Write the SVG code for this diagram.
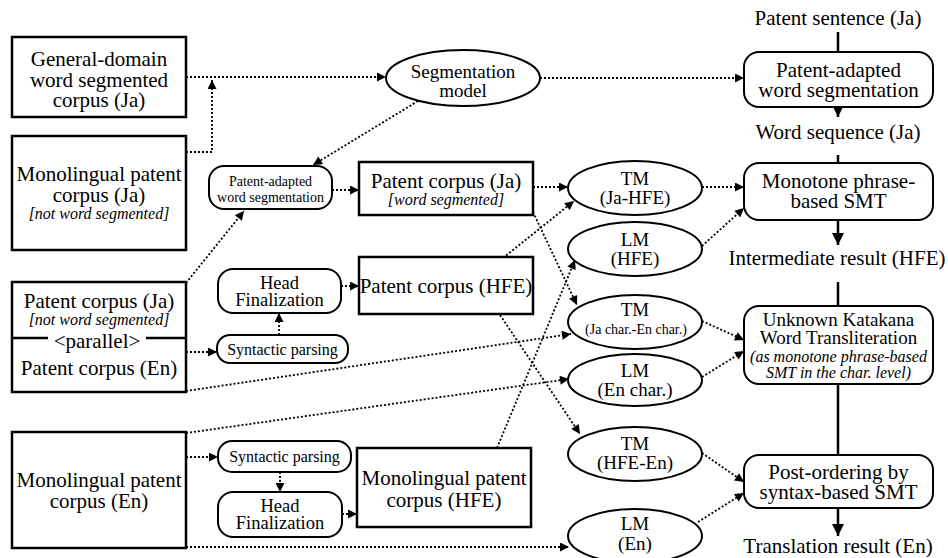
<svg xmlns="http://www.w3.org/2000/svg" width="948" height="558" viewBox="0 0 948 558" font-family="Liberation Serif, DejaVu Serif, serif">
<defs>
<style>
text{text-anchor:middle;fill:#000}
.b{fill:#fff;stroke:#000;stroke-width:2.5}
.r{fill:#fff;stroke:#000;stroke-width:2}
.e{fill:#fff;stroke:#000;stroke-width:2}
.d{fill:none;stroke:#000;stroke-width:1.8;stroke-dasharray:2 2;marker-end:url(#ah)}
.s{fill:none;stroke:#000;stroke-width:2.5}
.sa{fill:none;stroke:#000;stroke-width:2.5;marker-end:url(#sh)}
.f21{font-size:21px}
.f19{font-size:19px}
.f18{font-size:18.5px}
.f16{font-size:16px}
.f14{font-size:14px}
.i{font-style:italic}
</style>
<marker id="ah" viewBox="0 0 10 10" refX="10" refY="5" markerWidth="10" markerHeight="9" orient="auto" markerUnits="userSpaceOnUse"><path d="M0,0 L10,5 L0,10 z" fill="#000"/></marker>
<marker id="sh" viewBox="0 0 10 10" refX="10" refY="5" markerWidth="12" markerHeight="13" orient="auto" markerUnits="userSpaceOnUse"><path d="M0,0 L10,5 L0,10 z" fill="#000"/></marker>
</defs>
<rect width="948" height="558" fill="#fff"/>

<g id="connectors">
<path class="d" d="M186,77 H386"/>
<path class="d" d="M186,152 H212 V80"/>
<path class="d" d="M540,78 H744"/>
<path class="d" d="M418,101 L313,165"/>
<path class="d" d="M332,190 H359"/>
<path class="d" d="M186,283 L244,211"/>
<path class="d" d="M186,352 H217"/>
<path class="d" d="M279,335 V313"/>
<path class="d" d="M341,286 H359"/>
<path class="d" d="M186,391 L571,334"/>
<path class="d" d="M186,433 L569,379"/>
<path class="d" d="M186,457 H218"/>
<path class="d" d="M280,472 V492"/>
<path class="d" d="M342,514 H357"/>
<path class="d" d="M186,547 H569"/>
<path class="d" d="M533,187 H568"/>
<path class="d" d="M533,212 L577,305"/>
<path class="d" d="M503,258 L574,201"/>
<path class="d" d="M500,315 L580,434"/>
<path class="d" d="M497,448 L575,260"/>
<path class="d" d="M702,187 H744"/>
<path class="d" d="M702,246 L744,208"/>
<path class="d" d="M702,321 L744,340"/>
<path class="d" d="M702,377 L744,351"/>
<path class="d" d="M702,453 L744,482"/>
<path class="d" d="M698,522 L744,493"/>
<path class="s" d="M838,32 V52"/>
<path class="sa" d="M838,107 V117"/>
<path class="s" d="M838,155 V163"/>
<path class="sa" d="M838,220 V245"/>
<path class="s" d="M838,282 V306"/>
<path class="s" d="M838,384 V455"/>
<path class="sa" d="M838,508 V536"/>
</g>

<g id="general-corpus">
<rect class="b" x="12" y="37" width="174" height="80"/>
<text class="f21" x="99" y="66">General-domain</text>
<text class="f21" x="99" y="86.5">word segmented</text>
<text class="f21" x="99" y="107">corpus (Ja)</text>
</g>

<g id="mono-ja">
<rect class="b" x="12" y="136" width="174" height="114"/>
<text class="f21" x="99" y="181">Monolingual patent</text>
<text class="f21" x="99" y="202">corpus (Ja)</text>
<text class="f16 i" x="99" y="219">[not word segmented]</text>
</g>

<g id="parallel">
<rect class="b" x="12" y="282" width="174" height="110"/>
<path class="s" d="M12,338 H48 M146,338 H186"/>
<text class="f21" x="99" y="308">Patent corpus (Ja)</text>
<text class="f16 i" x="99" y="325">[not word segmented]</text>
<text class="f21" x="97" y="348">&lt;parallel&gt;</text>
<text class="f21" x="99" y="375">Patent corpus (En)</text>
</g>

<g id="mono-en">
<rect class="b" x="12" y="432" width="174" height="116"/>
<text class="f21" x="99" y="487">Monolingual patent</text>
<text class="f21" x="99" y="508">corpus (En)</text>
</g>

<g id="seg-model">
<ellipse class="e" cx="463" cy="78" rx="77" ry="28"/>
<text class="f19" x="463" y="78">Segmentation</text>
<text class="f19" x="463" y="97">model</text>
</g>

<g id="pa-seg-small">
<rect class="r" x="209" y="166" width="123" height="43" rx="15"/>
<text class="f14" x="270.5" y="186">Patent-adapted</text>
<text class="f14" x="270.5" y="202">word segmentation</text>
</g>

<g id="head-fin-1">
<rect class="r" x="218" y="269" width="123" height="44" rx="15"/>
<text class="f18" x="279.5" y="289">Head</text>
<text class="f18" x="279.5" y="306">Finalization</text>
</g>

<g id="synt-1">
<rect class="r" x="217" y="335" width="131" height="28" rx="13"/>
<text class="f16" x="282.5" y="355">Syntactic parsing</text>
</g>

<g id="synt-2">
<rect class="r" x="218" y="441" width="133" height="31" rx="14"/>
<text class="f16" x="284.5" y="462">Syntactic parsing</text>
</g>

<g id="head-fin-2">
<rect class="r" x="218" y="492" width="124" height="45" rx="15"/>
<text class="f18" x="280" y="512">Head</text>
<text class="f18" x="280" y="529">Finalization</text>
</g>

<g id="pc-ja">
<rect class="b" x="359" y="162" width="174" height="53"/>
<text class="f21" x="446" y="188">Patent corpus (Ja)</text>
<text class="f16 i" x="446" y="205">[word segmented]</text>
</g>

<g id="pc-hfe">
<rect class="b" x="359" y="257" width="174" height="57"/>
<text class="f21" x="446" y="293">Patent corpus (HFE)</text>
</g>

<g id="mono-hfe">
<rect class="b" x="357" y="448" width="174" height="79"/>
<text class="f21" x="444" y="485">Monolingual patent</text>
<text class="f21" x="444" y="507">corpus (HFE)</text>
</g>

<g id="tm-ja-hfe">
<ellipse class="e" cx="635" cy="188" rx="67" ry="27"/>
<text class="f19" x="635" y="185">TM</text>
<text class="f19" x="635" y="204">(Ja-HFE)</text>
</g>

<g id="lm-hfe">
<ellipse class="e" cx="635" cy="249" rx="67" ry="27"/>
<text class="f19" x="635" y="246">LM</text>
<text class="f19" x="635" y="265">(HFE)</text>
</g>

<g id="tm-char">
<ellipse class="e" cx="635" cy="322" rx="67" ry="27"/>
<text class="f19" x="635" y="316">TM</text>
<text class="f14" x="636" y="334">(Ja char.-En char.)</text>
</g>

<g id="lm-en-char">
<ellipse class="e" cx="635" cy="380" rx="67" ry="26"/>
<text class="f19" x="635" y="377">LM</text>
<text class="f19" x="635" y="396">(En char.)</text>
</g>

<g id="tm-hfe-en">
<ellipse class="e" cx="635" cy="454" rx="67" ry="27"/>
<text class="f19" x="635" y="450">TM</text>
<text class="f19" x="635" y="469">(HFE-En)</text>
</g>

<g id="lm-en">
<ellipse class="e" cx="635" cy="536" rx="67" ry="27"/>
<text class="f19" x="635" y="530">LM</text>
<text class="f19" x="635" y="550">(En)</text>
</g>

<g id="patent-sentence">
<text class="f21" x="838" y="25">Patent sentence (Ja)</text>
</g>

<g id="pa-seg">
<rect class="r" x="744" y="52" width="189" height="55" rx="15"/>
<text class="f21" x="838.5" y="77">Patent-adapted</text>
<text class="f21" x="838.5" y="97">word segmentation</text>
</g>

<g id="word-seq">
<text class="f21" x="838" y="139">Word sequence (Ja)</text>
</g>

<g id="monotone">
<rect class="r" x="744" y="163" width="189" height="57" rx="15"/>
<text class="f21" x="838.5" y="188">Monotone phrase-</text>
<text class="f21" x="838.5" y="208">based SMT</text>
</g>

<g id="intermediate">
<text class="f21" x="837" y="265">Intermediate result (HFE)</text>
</g>

<g id="katakana">
<rect class="r" x="744" y="306" width="189" height="78" rx="15"/>
<text class="f19" x="838.5" y="326">Unknown Katakana</text>
<text class="f19" x="838.5" y="344">Word Transliteration</text>
<text class="f16 i" x="838.5" y="362">(as monotone phrase-based</text>
<text class="f16 i" x="838.5" y="378">SMT in the char. level)</text>
</g>

<g id="post-order">
<rect class="r" x="744" y="455" width="189" height="53" rx="15"/>
<text class="f21" x="838.5" y="479">Post-ordering by</text>
<text class="f21" x="838.5" y="499">syntax-based SMT</text>
</g>

<g id="translation">
<text class="f21" x="838" y="553">Translation result (En)</text>
</g>
</svg>
